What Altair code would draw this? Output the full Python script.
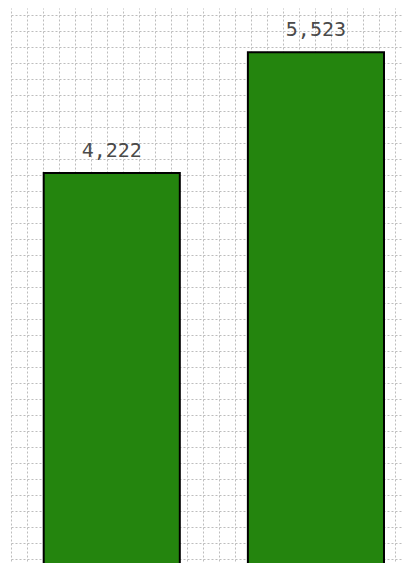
import altair as alt
import pandas as pd

# Data
categories = ["A", "B"]
values = [4222, 5523]

# Background grid (pixel units of the plot area)
grid_x = list(range(0, 392, 16))
grid_y = list(range(7, 557, 16))

df = pd.DataFrame({"category": categories, "value": values})

W, H = 392, 557

grid_axis_common = dict(
    grid=True,
    labels=False,
    ticks=False,
    domain=False,
    title="",
    gridColor="#bdbdbd",
    gridDash=[2, 2],
    gridWidth=1,
    gridOpacity=1,
)

grid = alt.Chart(df).mark_point(opacity=0, size=0).encode(
    x=alt.X(datum=0, type="quantitative",
            scale=alt.Scale(domain=[0, W], nice=False, zero=False),
            axis=alt.Axis(values=grid_x, **grid_axis_common)),
    y=alt.Y(datum=0, type="quantitative",
            scale=alt.Scale(domain=[0, H], nice=False, zero=False, reverse=True),
            axis=alt.Axis(values=grid_y, **grid_axis_common)),
)

x_enc = alt.X("category:N", sort=categories,
              scale=alt.Scale(type="band", paddingInner=1/3, paddingOuter=0.1266, align=0.6325),
              axis=None)
y_enc = alt.Y("value:Q", scale=alt.Scale(domain=[0, 6000], nice=False), axis=None)

bars = alt.Chart(df).mark_bar(
    color="#24850E", stroke="#000000", strokeWidth=2
).encode(x=x_enc, y=y_enc)

labels = alt.Chart(df).mark_text(
    dy=-16, baseline="alphabetic", align="center",
    font="DejaVu Sans Mono", fontSize=20, color="#4a4a4a"
).encode(x=x_enc, y=y_enc, text=alt.Text("value:Q", format=",d"))

chart = alt.layer(grid, alt.layer(bars, labels)).resolve_scale(
    x="independent", y="independent"
).properties(
    width=W, height=H,
    padding={"left": 3, "top": 0, "right": 0, "bottom": 0},
).configure_view(stroke=None)

chart.save("out.html", embed_options={"renderer": "svg", "actions": False})
